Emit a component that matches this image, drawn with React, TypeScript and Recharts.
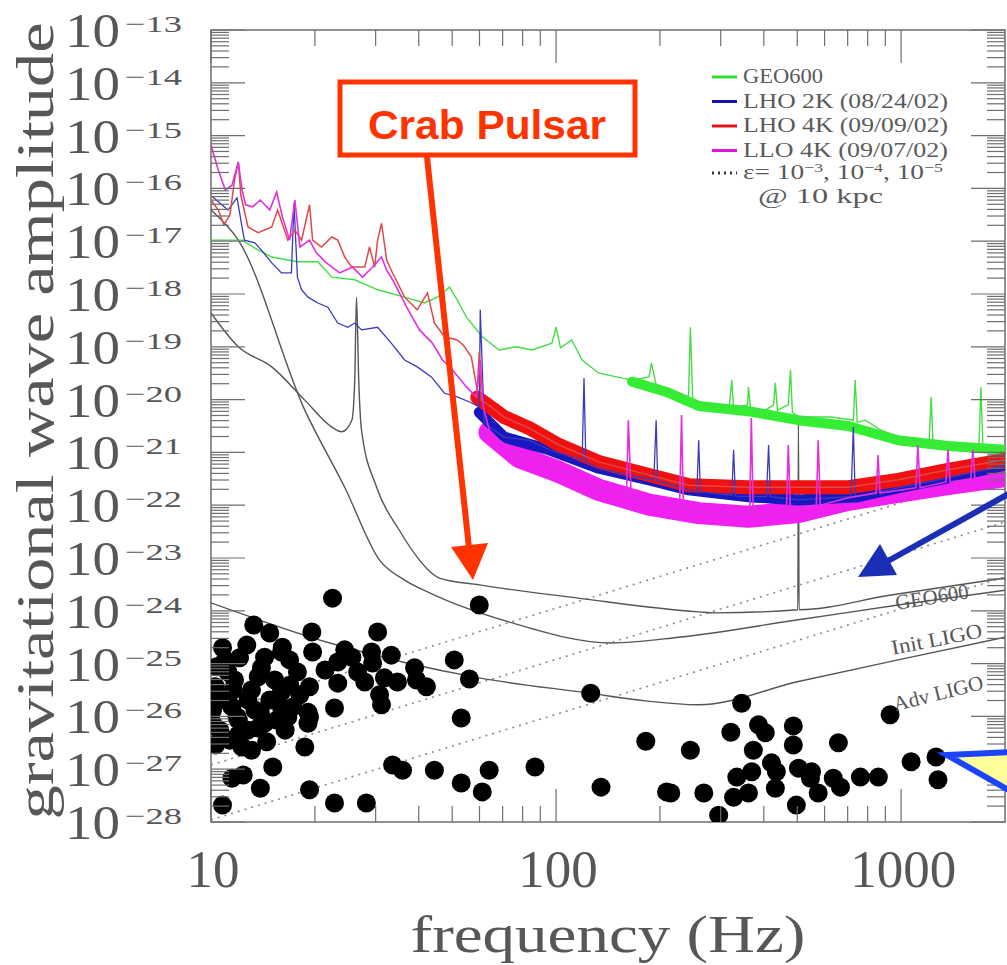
import React from 'react';
import { ComposedChart, Line, Scatter, XAxis, YAxis, ReferenceArea } from 'recharts';

const W = 1007;
const H = 965;
const MARGIN = { top: 30, right: 2, bottom: 0, left: 0 };
const Y_AXIS_W = 211;
const X_AXIS_H = 143;
const PLOT_W = W - Y_AXIS_W - MARGIN.right;
const PLOT_H = H - MARGIN.top - X_AXIS_H;

const AXIS = '#6e6e6e';
const INK = '#575757';
const SERIF = '"Liberation Serif", "Times New Roman", serif';

// axis ticks
const X_DECADES = [10, 100, 1000];
const X_TICK_LABELS = ['10', '100', '1000'];
const Y_DECADES = [-28, -27, -26, -25, -24, -23, -22, -21, -20, -19, -18, -17, -16, -15, -14, -13];
const MINOR_STEPS = [2, 3, 4, 5, 6, 7, 8, 9];

// detector noise spectra: frequency (Hz) and log10 of amplitude
const GEO_S1_F = [10, 12.3, 13.4, 15.0, 17.8, 20.4, 22.4, 26.1, 30.4, 36.4, 41.5, 45.3, 49.1, 51.7, 55.0, 61.1, 68.4, 76.6, 85.2, 97.3, 100, 103, 111, 119, 133, 166, 186, 189, 195, 208, 242, 245, 249, 290, 318, 323, 327, 359, 361, 366, 404, 427, 432, 438, 471, 478, 484, 504, 628, 727, 736, 746, 787, 875, 980, 1097, 1205, 1222, 1237, 1367, 1680, 1703, 1726, 2000];
const GEO_S1_LOG = [-16.98, -16.98, -17.13, -17.30, -17.39, -17.39, -17.68, -17.73, -17.92, -18.06, -18.17, -18.06, -17.87, -18.11, -18.44, -18.81, -19.06, -19.00, -19.06, -18.93, -18.63, -19.02, -18.87, -19.25, -19.50, -19.63, -19.57, -19.31, -19.72, -19.82, -19.95, -18.63, -20.01, -20.14, -20.10, -19.63, -20.16, -20.10, -19.76, -20.16, -20.20, -20.10, -19.68, -20.20, -20.10, -19.44, -20.24, -20.33, -20.33, -20.39, -19.63, -20.43, -20.39, -20.58, -20.71, -20.77, -20.82, -19.95, -20.84, -20.86, -20.90, -19.76, -20.90, -20.92];
const GEO_S1_BAND_F = [166, 208, 259, 361, 504, 702, 980, 1367, 2000];
const GEO_S1_BAND_LOG = [-19.66, -19.85, -20.12, -20.22, -20.39, -20.50, -20.77, -20.88, -20.95];

const LHO2K_F = [10.1, 11.2, 11.9, 12.3, 12.5, 13.4, 14.0, 15.0, 16.0, 17.1, 17.4, 17.8, 18.3, 19.1, 20.4, 21.8, 23.3, 24.9, 26.1, 27.3, 30.4, 33.3, 36.4, 39.6, 43.5, 47.5, 51.7, 56.8, 59.9, 60.3, 61.9, 66.2, 70.7, 83.6, 95.5, 119, 120.5, 122, 133, 162, 192, 195, 197, 242, 256, 259, 262, 323, 327, 331, 407, 413, 418, 504, 716, 727, 736, 980, 1367, 2000];
const LHO2K_LOG = [-16.16, -16.41, -16.18, -16.73, -16.98, -17.03, -17.17, -17.41, -17.60, -17.60, -16.28, -17.68, -17.92, -18.06, -18.17, -18.25, -18.55, -18.63, -18.55, -18.68, -18.63, -18.93, -19.25, -19.38, -19.57, -19.88, -19.95, -20.06, -20.14, -18.30, -20.44, -20.58, -20.71, -20.77, -20.95, -21.14, -19.59, -21.18, -21.30, -21.43, -21.52, -20.39, -21.54, -21.71, -21.73, -20.77, -21.75, -21.81, -20.95, -21.83, -21.84, -20.86, -21.84, -21.90, -21.84, -20.52, -21.84, -21.67, -21.48, -21.24];
const LHO2K_BAND_F = [59.9, 70.7, 95.5, 133, 186, 242, 361, 504, 751, 980, 1367, 2000];
const LHO2K_BAND_LOG = [-20.24, -20.71, -20.95, -21.30, -21.52, -21.71, -21.84, -21.90, -21.84, -21.67, -21.48, -21.24];

const LHO4K_F = [10, 10.5, 10.9, 11.35, 11.7, 12.0, 12.2, 12.8, 13.7, 15.0, 15.6, 16.7, 17.5, 18.3, 19.3, 19.7, 20.9, 22.4, 23.3, 24.4, 25.6, 27.9, 28.8, 29.8, 30.4, 31.2, 32.3, 33.3, 36.4, 39.6, 42.4, 44.4, 47.5, 51.7, 53.9, 56.8, 59.1, 59.9, 60.7, 64.9, 70.7, 83.6, 102, 133, 186, 242, 361, 504, 702, 980, 1367, 2000];
const LHO4K_LOG = [-16.22, -16.41, -16.69, -16.50, -15.84, -15.50, -16.13, -16.73, -16.84, -16.73, -16.41, -16.98, -16.79, -16.98, -16.31, -16.98, -17.11, -16.92, -16.98, -17.30, -17.49, -17.49, -17.11, -17.49, -16.98, -16.66, -17.36, -17.55, -18.06, -18.30, -17.98, -18.55, -18.81, -18.87, -18.97, -19.19, -19.82, -19.10, -20.01, -20.14, -20.33, -20.54, -20.86, -21.18, -21.43, -21.62, -21.66, -21.66, -21.66, -21.52, -21.33, -21.14];
const LHO4K_BAND_F = [59.1, 70.7, 83.6, 102, 133, 186, 242, 361, 504, 702, 980, 1367, 2000];
const LHO4K_BAND_LOG = [-19.96, -20.33, -20.54, -20.86, -21.18, -21.43, -21.62, -21.66, -21.66, -21.66, -21.52, -21.33, -21.14];

const LLO4K_F = [10, 10.5, 11.0, 11.5, 12.0, 12.3, 12.6, 13.2, 13.9, 14.8, 15.5, 16.1, 16.9, 17.5, 18.1, 19.3, 20.2, 21.6, 23.6, 25.7, 27.5, 29.4, 31.2, 32.3, 33.6, 36.9, 40.2, 43.8, 46.9, 50.1, 55.0, 58.7, 60.3, 61.5, 64.1, 68.5, 78.2, 89.4, 102, 133, 160, 162, 165, 186, 228, 231, 234, 259, 364, 368, 373, 465, 471, 478, 568, 575, 583, 702, 847, 857, 869, 1104, 1118, 1135, 1349, 1367, 1387, 1592, 1614, 1636, 2000];
const LLO4K_LOG = [-15.18, -15.65, -16.03, -15.94, -15.50, -16.03, -16.31, -16.35, -16.22, -16.41, -16.07, -16.54, -16.98, -16.22, -17.11, -16.98, -17.22, -17.41, -17.60, -17.49, -17.68, -17.49, -17.30, -17.55, -17.73, -18.25, -18.68, -18.93, -19.25, -19.44, -19.76, -19.95, -19.25, -20.14, -20.58, -20.77, -21.05, -21.18, -21.33, -21.66, -21.81, -20.39, -21.83, -21.96, -22.07, -20.29, -22.07, -22.13, -22.19, -20.35, -22.19, -22.13, -20.86, -22.13, -22.00, -20.77, -22.00, -21.86, -21.77, -21.05, -21.77, -21.67, -20.86, -21.67, -21.56, -20.95, -21.56, -21.50, -20.95, -21.50, -21.43];
const LLO4K_BAND_F = [64.1, 78.2, 102, 133, 186, 259, 361, 504, 702, 980, 1367, 2000];
const LLO4K_BAND_LOG = [-20.62, -21.09, -21.37, -21.71, -21.99, -22.15, -22.22, -22.13, -21.90, -21.75, -21.60, -21.45];

// design sensitivity curves
const GEO_DESIGN_F = [10, 12.0, 15.0, 18.7, 22.4, 23.9, 25.6, 26.1, 26.4, 26.8, 27.3, 30.2, 35.1, 40.2, 43.0, 45.9, 59.9, 116, 259, 290, 502, 504, 506, 935, 2000];
const GEO_DESIGN_LOG = [-18.36, -19.00, -19.38, -20.01, -20.52, -20.61, -20.39, -19.63, -18.06, -19.63, -20.58, -21.66, -22.47, -23.04, -23.25, -23.38, -23.51, -23.76, -24.02, -24.04, -23.98, -20.39, -23.98, -23.70, -23.38];
const INIT_LIGO_F = [10, 12.0, 18.7, 24.4, 30.8, 36.4, 43.0, 74.7, 145, 227, 504, 980, 2000];
const INIT_LIGO_LOG = [-16.41, -16.98, -20.20, -21.66, -23.04, -23.42, -23.66, -24.23, -24.61, -24.50, -24.17, -23.89, -23.61];
const ADV_LIGO_F = [10, 22.1, 59.9, 124.5, 173, 259, 504, 980, 2000];
const ADV_LIGO_LOG = [-23.85, -24.61, -25.27, -25.56, -25.69, -25.78, -25.34, -24.93, -24.50];

// spin-down limits for ellipticity 1e-3, 1e-4, 1e-5 at 10 kpc
const EPS_F = [10, 2000];
const EPS3_LOG = [-25.95, -21.35];
const EPS4_LOG = [-26.92, -22.32];
const EPS5_LOG = [-27.96, -23.36];

// known pulsars
const PULSAR_F = [13.3, 14.8, 16.1, 12.1, 10.4, 14.3, 16.0, 17.8, 10.3, 11.7, 13.7, 13.1, 16.0, 10.1, 11.5, 13.4, 16.0, 10.1, 12.0, 14.3, 16.7, 10.3, 12.3, 13.1, 14.5, 15.1, 11.5, 12.4, 13.9, 10.8, 11.6, 11.9, 13.9, 15.5, 17.3, 10.6, 19.3, 11.0, 12.8, 14.8, 16.9, 11.0, 12.8, 11.35,
  10.8, 12.7, 11.2, 14.0, 16.9, 18.1, 10.5, 12.0, 13.7, 16.4, 15.3, 24.4, 33.3, 34.7,
  22.5, 59.9, 19.6, 30.4, 19.7, 23.3, 25.6, 29.2, 29.4, 21.4, 26.6, 31.8, 38.9, 50.7, 39.4, 42.1, 56.1, 19.3, 23.3, 27.9, 30.8, 31.2, 22.8, 19.1, 19.1, 53.1, 18.7, 19.3, 33.6, 35.9, 44.4, 53.1, 61.1, 64.0, 22.8, 28.2, 126, 182, 86.9, 135, 209,
  345, 929, 321, 386, 404, 487, 487, 658, 245, 373, 1069, 1262, 421, 435, 334, 369, 504, 550, 546, 575, 636, 667, 762, 859, 1279, 432, 361, 327, 497, 296, 215, 268];
const PULSAR_LOG = [-24.27, -24.42, -24.69, -24.89, -25.06, -24.88, -24.78, -25.16, -25.44, -25.31, -25.25, -25.50, -25.54, -25.88, -25.82, -25.88, -25.82, -26.13, -26.07, -26.13, -26.01, -26.54, -26.58, -26.64, -26.48, -26.96, -27.17, -27.11, -27.36, -27.68, -25.50, -26.01, -25.94, -26.07, -25.82, -26.26, -26.01, -25.69, -25.69, -25.69, -25.41, -24.93, -26.26, -26.45,
  -24.70, -24.65, -25.16, -25.08, -24.93, -25.59, -25.65, -26.35, -26.22, -26.26, -25.31, -24.74, -24.84, -25.35,
  -23.76, -23.89, -24.40, -24.40, -24.78, -24.97, -24.88, -24.78, -24.99, -25.12, -25.16, -25.27, -25.08, -24.93, -25.31, -25.44, -25.29, -25.44, -25.37, -25.35, -25.59, -25.78, -25.84, -25.92, -26.13, -26.03, -26.58, -27.39, -26.92, -27.02, -27.02, -27.26, -27.43, -27.02, -27.64, -27.64, -25.56, -26.47, -26.96, -27.34, -27.43,
  -25.75, -25.97, -26.30, -26.16, -26.31, -26.18, -26.54, -26.50, -26.64, -26.64, -26.86, -26.77, -26.88, -27.05, -27.15, -27.05, -26.98, -27.05, -27.17, -27.45, -27.17, -27.34, -27.15, -27.15, -27.20, -27.36, -27.45, -27.53, -27.68, -27.87, -27.45, -27.45];

const pts = (fs: number[], logs: number[]) => fs.map((f, i) => ({ f, h: 10 ** logs[i] }));

const X_TICKS = X_DECADES.flatMap((d) => [d, ...MINOR_STEPS.map((k) => k * d)]).filter((v) => v < 2000);
const Y_TICKS = Y_DECADES.flatMap((e) => (e === -13 ? [10 ** e] : [10 ** e, ...MINOR_STEPS.map((k) => k * 10 ** e)]));

const XTick = ({ x, y, payload }: any) => {
  const i = X_DECADES.indexOf(payload.value);
  const len = i >= 0 ? 33 : 16;
  return (
    <g>
      <line x1={x} x2={x} y1={y} y2={y - len} stroke={AXIS} strokeWidth={1.2} />
      <line x1={x} x2={x} y1={y - PLOT_H} y2={y - PLOT_H + len} stroke={AXIS} strokeWidth={1.2} />
      {i >= 0 && (
        <text x={x + 2} y={y + 65} textAnchor="middle" fontSize={53} fontFamily={SERIF} fill={INK}>
          {X_TICK_LABELS[i]}
        </text>
      )}
    </g>
  );
};

const YTick = ({ x, y, payload }: any) => {
  const lg = Math.log10(payload.value);
  const e = Math.round(lg);
  const major = Math.abs(lg - e) < 1e-6;
  const len = major ? 34 : 18;
  return (
    <g>
      <line x1={x} x2={x + len} y1={y} y2={y} stroke={AXIS} strokeWidth={1.2} />
      <line x1={x + PLOT_W} x2={x + PLOT_W - len} y1={y} y2={y} stroke={AXIS} strokeWidth={1.2} />
      {major && (
        <g fill={INK} fontFamily={SERIF}>
          <text x={x - 146} y={y + 17} fontSize={49} textLength={55} lengthAdjust="spacingAndGlyphs">
            10
          </text>
          <text x={x - 86} y={y + 2} fontSize={24} textLength={57} lengthAdjust="spacingAndGlyphs">
            {'\u2212' + Math.abs(e)}
          </text>
        </g>
      )}
    </g>
  );
};

const XTitle = () => (
  <text x={608} y={952} textAnchor="middle" fontSize={52} fontFamily={SERIF} fill={INK} textLength={395} lengthAdjust="spacingAndGlyphs">
    frequency (Hz)
  </text>
);

const YTitle = () => (
  <text
    x={0}
    y={0}
    transform="translate(53 421) rotate(-90)"
    textAnchor="middle"
    fontSize={52}
    fontFamily={SERIF}
    fill={INK}
    textLength={797}
    lengthAdjust="spacingAndGlyphs"
  >
    gravitational wave amplitude
  </text>
);

const Dot = (p: any) => <circle cx={p.cx} cy={p.cy} r={9.5} fill="#000" />;

const LEGEND = [
  { label: 'GEO600', color: '#33dd33', len: 80 },
  { label: 'LHO 2K (08/24/02)', color: '#1414aa', len: 205 },
  { label: 'LHO 4K (09/09/02)', color: '#e01414', len: 205 },
  { label: 'LLO 4K (09/07/02)', color: '#e014e0', len: 205 },
];

const Overlay = () => (
  <svg width={W} height={H} style={{ position: 'absolute', left: 0, top: 0, pointerEvents: 'none' }}>
    {/* legend */}
    <g fontFamily={SERIF} fill="#5a5a5a" fontSize={20}>
      {LEGEND.map((d, i) => (
        <g key={d.label}>
          <line x1={712} x2={737} y1={77 + i * 24.5} y2={77 + i * 24.5} stroke={d.color} strokeWidth={3} />
          <text x={743} y={83 + i * 24.5} textLength={d.len} lengthAdjust="spacingAndGlyphs">
            {d.label}
          </text>
        </g>
      ))}
      <line x1={712} x2={737} y1={173} y2={173} stroke="#333" strokeWidth={3} strokeDasharray="2 4" />
      <text x={743} y={179} textLength={200} lengthAdjust="spacingAndGlyphs">
        ε= 10<tspan dy={-7} fontSize={13}>−3</tspan>
        <tspan dy={7}>, 10</tspan>
        <tspan dy={-7} fontSize={13}>−4</tspan>
        <tspan dy={7}>, 10</tspan>
        <tspan dy={-7} fontSize={13}>−5</tspan>
      </text>
      <text x={758} y={203} textLength={125} lengthAdjust="spacingAndGlyphs">
        @ 10 kpc
      </text>
    </g>

    {/* curve labels */}
    <g fontFamily={SERIF} fill="#555" fontSize={21}>
      <text transform="translate(933 604) rotate(-9)" textAnchor="middle" textLength={74} lengthAdjust="spacingAndGlyphs">
        GEO600
      </text>
      <text transform="translate(938 646) rotate(-11)" textAnchor="middle" textLength={92} lengthAdjust="spacingAndGlyphs">
        Init LIGO
      </text>
      <text transform="translate(940 700) rotate(-14)" textAnchor="middle" textLength={92} lengthAdjust="spacingAndGlyphs">
        Adv LIGO
      </text>
    </g>

    {/* Crab pulsar callout */}
    <rect x={340} y={82} width={295} height={73} fill="none" stroke="#ff3300" strokeWidth={5} />
    <text x={487} y={139} textAnchor="middle" fontFamily='"Liberation Sans", Arial, sans-serif' fontWeight={700} fontSize={40} fill="#ff3300" textLength={238} lengthAdjust="spacingAndGlyphs">
      Crab Pulsar
    </text>
    <line x1={427} y1={157} x2={469} y2={548} stroke="#ff3300" strokeWidth={6} />
    <polygon points="473,580 488,543 451,547" fill="#ff3300" />

    {/* blue arrow */}
    <line x1={1012} y1={492} x2={888} y2={561} stroke="#1a2fb5" strokeWidth={6} />
    <polygon points="858,577 880,544 897,575" fill="#1a2fb5" />

    {/* yellow callout */}
    <polygon points="947,755 1012,752 1012,792" fill="#ffff99" stroke="#1a44ff" strokeWidth={6} strokeLinejoin="miter" />
  </svg>
);

export default function App() {
  return (
    <div style={{ position: 'absolute', left: 0, top: 0, width: W, height: H, background: '#fff', overflow: 'hidden' }}>
      <ComposedChart width={W} height={H} margin={MARGIN}>
        <XAxis
          dataKey="f"
          type="number"
          scale="log"
          domain={[10, 2000]}
          allowDataOverflow
          ticks={X_TICKS}
          interval={0}
          tick={<XTick />}
          tickLine={false}
          axisLine={false}
          tickSize={0}
          tickMargin={0}
          height={X_AXIS_H}
          label={<XTitle />}
        />
        <YAxis
          dataKey="h"
          type="number"
          scale="log"
          domain={[1e-28, 1e-13]}
          allowDataOverflow
          ticks={Y_TICKS}
          interval={0}
          tick={<YTick />}
          tickLine={false}
          axisLine={false}
          tickSize={0}
          tickMargin={0}
          width={Y_AXIS_W}
          label={<YTitle />}
        />
        <ReferenceArea x1={10} x2={2000} y1={1e-28} y2={1e-13} fill="none" fillOpacity={0} stroke={AXIS} strokeWidth={1.5} />

        <Line data={pts(EPS_F, EPS3_LOG)} dataKey="h" type="linear" stroke="#8a8a8a" strokeWidth={1.6} strokeDasharray="2 5" dot={false} isAnimationActive={false} />
        <Line data={pts(EPS_F, EPS4_LOG)} dataKey="h" type="linear" stroke="#8a8a8a" strokeWidth={1.6} strokeDasharray="2 5" dot={false} isAnimationActive={false} />
        <Line data={pts(EPS_F, EPS5_LOG)} dataKey="h" type="linear" stroke="#8a8a8a" strokeWidth={1.6} strokeDasharray="2 5" dot={false} isAnimationActive={false} />

        <Line data={pts(GEO_DESIGN_F, GEO_DESIGN_LOG)} dataKey="h" type="monotone" stroke="#555" strokeWidth={1.4} dot={false} isAnimationActive={false} />
        <Line data={pts(INIT_LIGO_F, INIT_LIGO_LOG)} dataKey="h" type="monotone" stroke="#555" strokeWidth={1.4} dot={false} isAnimationActive={false} />
        <Line data={pts(ADV_LIGO_F, ADV_LIGO_LOG)} dataKey="h" type="monotone" stroke="#555" strokeWidth={1.4} dot={false} isAnimationActive={false} />

        <Line data={pts(GEO_S1_BAND_F, GEO_S1_BAND_LOG)} dataKey="h" type="linear" stroke="#33ee33" strokeWidth={10} strokeLinejoin="round" strokeLinecap="round" dot={false} isAnimationActive={false} />
        <Line data={pts(GEO_S1_F, GEO_S1_LOG)} dataKey="h" type="linear" stroke="#44dd44" strokeWidth={1.4} dot={false} isAnimationActive={false} />

        <Line data={pts(LLO4K_BAND_F, LLO4K_BAND_LOG)} dataKey="h" type="linear" stroke="#f020f0" strokeWidth={22} strokeLinejoin="round" strokeLinecap="round" dot={false} isAnimationActive={false} />
        <Line data={pts(LHO2K_BAND_F, LHO2K_BAND_LOG)} dataKey="h" type="linear" stroke="#1818c0" strokeWidth={11} strokeLinejoin="round" strokeLinecap="round" dot={false} isAnimationActive={false} />
        <Line data={pts(LHO4K_BAND_F, LHO4K_BAND_LOG)} dataKey="h" type="linear" stroke="#f01010" strokeWidth={14} strokeLinejoin="round" strokeLinecap="round" dot={false} isAnimationActive={false} />

        <Line data={pts(LHO2K_F, LHO2K_LOG)} dataKey="h" type="linear" stroke="#3a3ac0" strokeWidth={1.3} dot={false} isAnimationActive={false} />
        <Line data={pts(LHO4K_F, LHO4K_LOG)} dataKey="h" type="linear" stroke="#e04848" strokeWidth={1.5} dot={false} isAnimationActive={false} />
        <Line data={pts(LLO4K_F, LLO4K_LOG)} dataKey="h" type="linear" stroke="#e030e0" strokeWidth={1.6} dot={false} isAnimationActive={false} />

        <Scatter data={pts(PULSAR_F, PULSAR_LOG)} shape={Dot} isAnimationActive={false} />
      </ComposedChart>
      <Overlay />
    </div>
  );
}
